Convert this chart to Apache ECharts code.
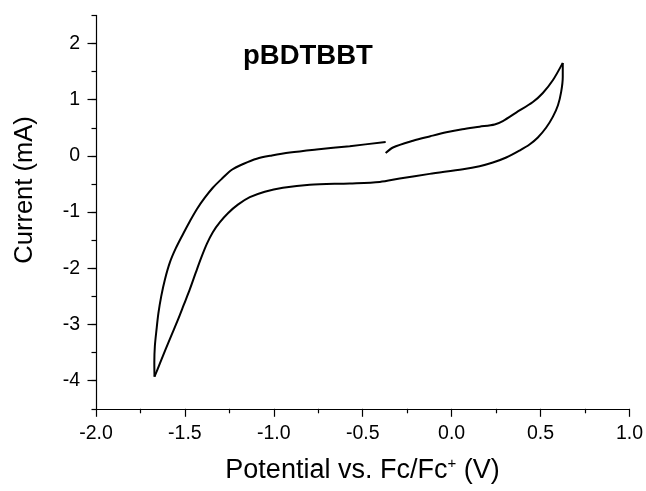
<!DOCTYPE html>
<html><head><meta charset="utf-8">
<script src="https://cdn.jsdelivr.net/npm/echarts@6/dist/echarts.min.js"></script>
<style>html,body{margin:0;padding:0;background:#fff}#c{width:646px;height:491px}</style>
</head><body><div id="c"></div>
<script>
const chartTitle = 'pBDTBBT';
const xAxisTitle = 'Potential vs. Fc/Fc';
const xAxisTitleSup = '+';
const xAxisTitleUnit = ' (V)';
const yAxisTitle = 'Current (mA)';
const xTicks = [-2.0, -1.5, -1.0, -0.5, 0.0, 0.5, 1.0];
const yMajorTicks = [-4, -3, -2, -1, 0, 1, 2];

// Scan 1: from start potential towards the anodic vertex
const forwardScan = [
  [-0.371, 0.05], [-0.33, 0.15], [-0.217, 0.27], [-0.12, 0.35], [-0.03, 0.42],
  [0.06, 0.475], [0.157, 0.52], [0.242, 0.56], [0.288, 0.62], [0.363, 0.77],
  [0.457, 0.96], [0.513, 1.12], [0.57, 1.35], [0.625, 1.655]
];
// Scan 2: anodic vertex back to cathodic vertex
const reverseScan = [
  [0.625, 1.655], [0.625, 1.406], [0.616, 1.139], [0.598, 0.902], [0.569, 0.694],
  [0.532, 0.505], [0.485, 0.327], [0.438, 0.203], [0.382, 0.096], [0.307, -0.029],
  [0.232, -0.118], [0.157, -0.183], [0.064, -0.237], [-0.124, -0.32], [-0.292, -0.403],
  [-0.404, -0.463], [-0.573, -0.489], [-0.798, -0.512],
  [-0.949, -0.566], [-1.051, -0.637], [-1.135, -0.735], [-1.202, -0.868], [-1.258, -1.02],
  [-1.303, -1.18], [-1.343, -1.358], [-1.376, -1.562], [-1.407, -1.802], [-1.438, -2.069],
  [-1.472, -2.372], [-1.506, -2.648], [-1.539, -2.915], [-1.573, -3.173], [-1.607, -3.431],
  [-1.64, -3.689], [-1.671, -3.929]
];
// Scan 3: cathodic vertex back towards start potential
const returnScan = [
  [-1.671, -3.929], [-1.672, -3.671], [-1.669, -3.386], [-1.66, -3.101], [-1.649, -2.799],
  [-1.633, -2.496], [-1.612, -2.194], [-1.584, -1.891], [-1.551, -1.642], [-1.511, -1.393],
  [-1.472, -1.162], [-1.433, -0.948], [-1.388, -0.744], [-1.343, -0.566], [-1.292, -0.406],
  [-1.236, -0.246], [-1.169, -0.139], [-1.096, -0.05], [-1.011, 0.007], [-0.91, 0.06],
  [-0.76, 0.114], [-0.573, 0.173], [-0.371, 0.249]
];

const FONT = '"Liberation Sans", Arial, Helvetica, sans-serif';
const chart = echarts.init(document.getElementById('c'));
const lineSeries = (data) => ({
  type: 'line', data: data, xAxisIndex: 0, yAxisIndex: 0,
  showSymbol: false, smooth: 0.3, clip: false,
  lineStyle: { color: '#000', width: 2 }, animation: false
});
const axisLineStyle = { color: '#000', width: 1.2 };
chart.setOption({
  backgroundColor: '#fff',
  animation: false,
  grid: { left: 96, right: 16, top: 15.4, bottom: 82.2 },
  xAxis: {
    type: 'value', min: -2, max: 1, interval: 0.5,
    axisLine: { show: true, onZero: false, lineStyle: axisLineStyle },
    axisTick: { show: true, inside: false, length: 8, lineStyle: axisLineStyle },
    minorTick: { show: true, splitNumber: 2, length: 4.5, lineStyle: axisLineStyle },
    splitLine: { show: false },
    axisLabel: {
      margin: 15, color: '#000', fontSize: 19.5, fontFamily: FONT,
      formatter: (v) => { const t = xTicks.find(x => Math.abs(x - v) < 1e-6); return t === undefined ? '' : (Math.abs(t) < 1e-9 ? '0.0' : t.toFixed(1)); }
    }
  },
  yAxis: [{
    type: 'value', min: -4.5, max: 2.5, interval: 0.5, position: 'left',
    axisLine: { show: true, onZero: false, lineStyle: axisLineStyle },
    axisTick: { show: true, inside: false, length: 4.5, lineStyle: axisLineStyle },
    splitLine: { show: false },
    axisLabel: { show: false }
  }, {
    type: 'value', min: -4.5, max: 2.5, position: 'left',
    axisLine: { show: false, onZero: false },
    axisTick: { show: true, inside: false, length: 8.5, customValues: yMajorTicks, lineStyle: axisLineStyle },
    splitLine: { show: false },
    axisLabel: { show: true, customValues: yMajorTicks, margin: 16, color: '#000', fontSize: 19.5, fontFamily: FONT }
  }],
  graphic: [
    { type: 'text', left: 243, top: 42, style: { text: chartTitle, fill: '#000', font: 'bold 27.5px ' + FONT } },
    { type: 'text', x: 362.5, y: 471, style: {
        text: '{a|' + xAxisTitle + '}{s|' + xAxisTitleSup + '}{a|' + xAxisTitleUnit + '}',
        align: 'center', verticalAlign: 'middle', fill: '#000',
        rich: { a: { fontSize: 27, fontFamily: FONT, lineHeight: 30 }, s: { fontSize: 15, fontFamily: FONT, verticalAlign: 'top', lineHeight: 30 } }
    } },
    { type: 'text', x: 25, y: 190, rotation: Math.PI / 2, style: {
        text: yAxisTitle, align: 'center', verticalAlign: 'middle', fill: '#000', font: '25.5px ' + FONT
    } }
  ],
  series: [lineSeries(forwardScan), lineSeries(reverseScan), lineSeries(returnScan)]
});
</script></body></html>
